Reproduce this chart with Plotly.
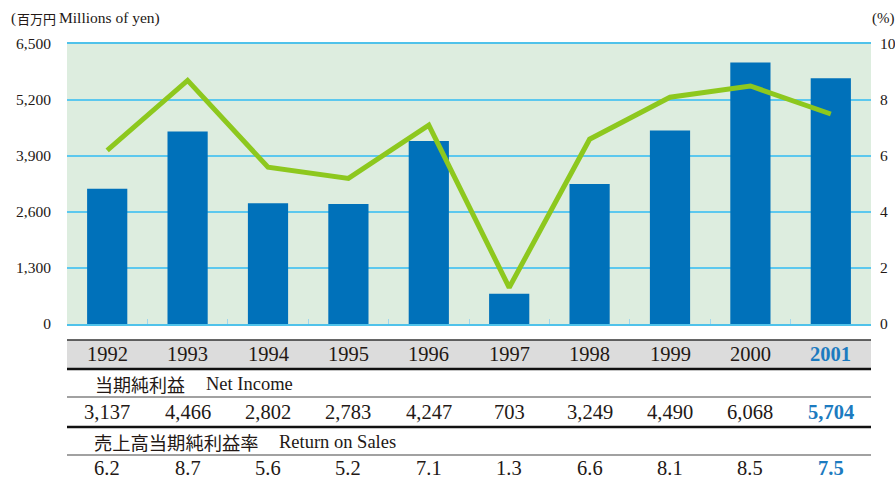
import plotly.graph_objects as go

years = ["1992", "1993", "1994", "1995", "1996", "1997", "1998", "1999", "2000", "2001"]
net_income = [3137, 4466, 2802, 2783, 4247, 703, 3249, 4490, 6068, 5704]
return_on_sales = [6.2, 8.7, 5.6, 5.2, 7.1, 1.3, 6.6, 8.1, 8.5, 7.5]
left_ticks = [0, 1300, 2600, 3900, 5200, 6500]
left_tick_text = ["0", "1,300", "2,600", "3,900", "5,200", "6,500"]
right_ticks = [0, 2, 4, 6, 8, 10]

BLUE = "#0071BA"
GREEN = "#8DC81E"
HL = "#1C7BC0"
TXT = "#231815"
SERIF = "Liberation Serif"
JP = "Noto Sans CJK JP"

L, R, T, B = 67, 24, 44, 154
W, H = 895, 478
PH = H - T - B


def py(p):
    return (H - B - p) / PH


def px(p):
    return (p - L) / (W - L - R)


fig = go.Figure()
fig.add_trace(go.Bar(x=years, y=net_income, marker=dict(color=BLUE, line=dict(width=0)),
                     name="Net Income"))
fig.add_trace(go.Scatter(x=years, y=return_on_sales, yaxis="y2", mode="lines",
                         line=dict(color=GREEN, width=5), name="Return on Sales"))

ann = []
shapes = []

# table background and rules
shapes.append(dict(type="rect", xref="paper", yref="paper", x0=0, x1=1, y0=py(369), y1=py(340),
                   fillcolor="#DCDCDC", line=dict(width=0), layer="below"))
for yy, w, c in [(340, 1.5, "#333"), (369, 2.5, "#111"), (397, 1.2, "#444"),
                 (427, 2.5, "#111"), (455, 1.2, "#444")]:
    shapes.append(dict(type="line", xref="paper", yref="paper", x0=0, x1=1, y0=py(yy), y1=py(yy),
                       line=dict(color=c, width=w)))

last = len(years) - 1
for i, yr in enumerate(years):
    bold = i == last
    col = HL if bold else TXT
    ann.append(dict(x=i, xref="x", y=py(354), yref="paper", yanchor="middle",
                    text=f"<b>{yr}</b>" if bold else yr,
                    showarrow=False, font=dict(family=SERIF, size=20.5, color=col)))
    v = f"{net_income[i]:,}"
    ann.append(dict(x=i, xref="x", y=py(412), yref="paper", yanchor="middle",
                    text=f"<b>{v}</b>" if bold else v,
                    showarrow=False, font=dict(family=SERIF, size=20.5, color=col)))
    r = f"{return_on_sales[i]:.1f}"
    ann.append(dict(x=i, xref="x", y=py(468), yref="paper", yanchor="middle",
                    text=f"<b>{r}</b>" if bold else r,
                    showarrow=False, font=dict(family=SERIF, size=20.5, color=col)))

ann.append(dict(x=px(93), xref="paper", y=py(384), yref="paper", text="当期純利益", xanchor="left",
                yanchor="middle", showarrow=False, font=dict(family=JP, size=18, color=TXT)))
ann.append(dict(x=px(204), xref="paper", y=py(384), yref="paper", text="Net Income", xanchor="left",
                yanchor="middle", showarrow=False, font=dict(family=SERIF, size=18.5, color=TXT)))
ann.append(dict(x=px(92), xref="paper", y=py(442), yref="paper", text="売上高当期純利益率", xanchor="left",
                yanchor="middle", showarrow=False, font=dict(family=JP, size=18.3, color=TXT)))
ann.append(dict(x=px(277), xref="paper", y=py(442), yref="paper", text="Return on Sales", xanchor="left",
                yanchor="middle", showarrow=False, font=dict(family=SERIF, size=18.5, color=TXT)))

# axis unit titles
ann.append(dict(x=px(9), xref="paper", y=py(18), yref="paper", xanchor="left", yanchor="middle",
                text="(", showarrow=False, font=dict(family=SERIF, size=15, color=TXT)))
ann.append(dict(x=px(15), xref="paper", y=py(18), yref="paper", xanchor="left", yanchor="middle",
                text="百万円", showarrow=False, font=dict(family=JP, size=13, color=TXT)))
ann.append(dict(x=px(57), xref="paper", y=py(18), yref="paper", xanchor="left", yanchor="middle",
                text="Millions of yen)", showarrow=False, font=dict(family=SERIF, size=15.5, color=TXT)))
ann.append(dict(x=px(897), xref="paper", y=py(18), yref="paper", xanchor="right", yanchor="middle",
                text="(%)", showarrow=False, font=dict(family=SERIF, size=15, color=TXT)))

fig.update_layout(
    width=W, height=H,
    margin=dict(l=L, r=R, t=T, b=B),
    paper_bgcolor="white",
    plot_bgcolor="#DDEDDF",
    showlegend=False,
    bargap=0.5,
    xaxis=dict(type="category", range=[-0.5, 9.5], showticklabels=False,
               ticks="inside", tickson="boundaries", ticklen=5, tickwidth=1, tickcolor="#9ED6EE",
               showline=True, mirror=True, linecolor="#4FC2EA", linewidth=2,
               showgrid=False, zeroline=False, automargin=False),
    yaxis=dict(range=[0, 6500], tickvals=left_ticks, ticktext=left_tick_text,
               showgrid=True, gridcolor="#5CC8EE", gridwidth=1.6, zeroline=False,
               ticks="outside", ticklen=12, tickcolor="rgba(0,0,0,0)", automargin=False,
               tickfont=dict(family=SERIF, size=15.5, color=TXT), showline=False),
    yaxis2=dict(range=[0, 10], tickvals=right_ticks, overlaying="y", side="right",
                showgrid=False, zeroline=False, ticks="outside", ticklen=5, tickcolor="rgba(0,0,0,0)",
                automargin=False,
                tickfont=dict(family=SERIF, size=15.5, color=TXT), showline=False),
    annotations=ann,
    shapes=shapes,
)

fig.write_html("out.html", config={"displayModeBar": False},
               post_script="document.body.style.margin='0';")
